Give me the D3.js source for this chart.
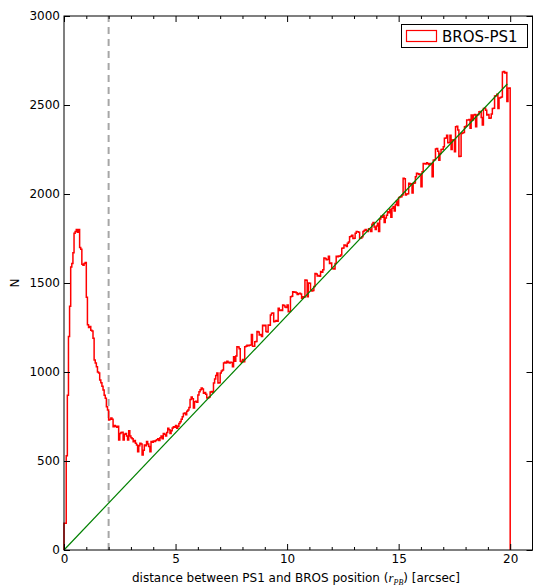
<!DOCTYPE html>
<html><head><meta charset="utf-8">
<script src="https://cdn.jsdelivr.net/npm/d3@7"></script>
<style>
body{margin:0;background:#fff}
text{font-family:"DejaVu Sans",sans-serif}
</style>
</head><body>
<svg id="c" width="533" height="586"></svg>
<script>
// ---- data ----
const seriesName = "BROS-PS1";
const binStart = 0;
const binWidth = 0.05;
const counts = [
150,150,530,870,1200,1370,1590,1610,1670,1780,
1790,1800,1785,1800,1700,1690,1605,1600,1610,1615,
1420,1265,1250,1255,1235,1230,1190,1067,1050,1030,
1000,994,955,940,920,899,870,853,805,787,
730,735,741,735,693,700,695,690,695,618,
655,660,661,618,650,655,640,618,670,640,
630,625,608,615,600,590,552,585,600,595,
534,560,590,585,609,595,581,552,609,605,
612,609,615,620,625,615,630,640,625,655,
650,640,660,684,675,655,670,685,693,690,
700,684,695,710,721,735,749,767,770,760,
780,787,800,845,860,850,798,833,835,830,
871,889,900,910,905,880,885,875,854,855,
860,888,890,885,938,960,980,994,938,940,
994,1005,1011,1050,1055,1050,1060,1055,1050,1055,
1054,1030,1086,1060,1090,1142,1140,1130,1060,1055,
1070,1058,1142,1145,1150,1148,1150,1152,1210,1145,
1145,1170,1172,1227,1225,1208,1210,1200,1262,1260,
1262,1227,1225,1264,1262,1320,1330,1332,1283,1285,
1290,1285,1358,1345,1348,1345,1376,1374,1365,1362,
1376,1339,1340,1423,1425,1451,1448,1450,1445,1435,
1440,1442,1438,1415,1423,1420,1517,1515,1423,1500,
1498,1461,1455,1458,1480,1554,1550,1540,1542,1538,
1564,1560,1575,1640,1638,1630,1632,1650,1610,1612,
1580,1582,1578,1610,1650,1648,1652,1650,1657,1695,
1697,1714,1712,1705,1723,1730,1760,1762,1768,1750,
1752,1780,1790,1788,1785,1751,1753,1760,1790,1795,
1800,1795,1790,1805,1800,1790,1830,1840,1815,1800,
1820,1835,1790,1860,1875,1870,1880,1840,1865,1880,
1900,1895,1915,1870,1920,1930,1905,1940,1960,1935,
1980,1983,1985,1994,2088,2085,1994,2000,2002,2060,
2055,2058,2005,2060,2062,2097,2116,2114,2110,2112,
2041,2125,2172,2170,2168,2175,2170,2165,2172,2170,
2097,2190,2192,2253,2255,2240,2190,2228,2250,2252,
2265,2313,2315,2330,2288,2290,2330,2250,2303,2305,
2238,2378,2380,2360,2210,2212,2340,2342,2345,2378,
2380,2416,2416,2418,2370,2444,2416,2444,2446,2378,
2444,2446,2462,2464,2430,2388,2480,2482,2470,2444,
2446,2425,2427,2450,2480,2482,2550,2552,2560,2480,
2540,2542,2545,2685,2688,2680,2682,2519,2594,2596
];
const fitX = [0, 19.87];
const fitN = [0, 2618];
const cutX = [2];
const xMajorTicks = [0, 5, 10, 15, 20];
const xMinorTicks = [1,2,3,4,6,7,8,9,11,12,13,14,16,17,18,19,21];
const yTicks = [0, 500, 1000, 1500, 2000, 2500, 3000];
const xDomain = [0, 21];
const yDomain = [0, 3000];

// ---- layout ----
const L = 64, R = 532.5, T = 16, B = 550;
const svg = d3.select("#c");
const x = d3.scaleLinear().domain(xDomain).range([L, R]);
const y = d3.scaleLinear().domain(yDomain).range([B, T]);

// dashed cut line
svg.selectAll("line.cut").data(cutX).enter().append("line")
  .attr("x1", d => x(d)).attr("x2", d => x(d))
  .attr("y1", y(yDomain[0])).attr("y2", y(yDomain[1]))
  .attr("stroke", "#a6a6a6").attr("stroke-width", 2)
  .attr("stroke-dasharray", "7,5");

// histogram step outline
const pts = [[binStart, 0]];
counts.forEach((c, i) => {
  const x0 = binStart + i * binWidth, x1 = x0 + binWidth;
  pts.push([x0, c]); pts.push([x1, c]);
});
pts.push([binStart + counts.length * binWidth, 0]);
svg.append("path")
  .attr("d", d3.line().x(d => x(d[0])).y(d => y(d[1]))(pts))
  .attr("fill", "none").attr("stroke", "#ff0000").attr("stroke-width", 1.5)
  .attr("stroke-linejoin", "miter");

// fit line
svg.append("path")
  .attr("d", d3.line().x(d => x(d[0])).y(d => y(d[1]))(fitX.map((v, i) => [v, fitN[i]])))
  .attr("stroke", "#008000").attr("stroke-width", 1.2).attr("fill", "none");

// axes
function style(g) {
  g.select(".domain").remove();
  g.selectAll("line").attr("stroke", "#000");
  g.selectAll("text").attr("font-size", 12).attr("fill", "#000")
    .attr("font-family", '"DejaVu Sans",sans-serif');
}
svg.append("g").attr("transform", `translate(0,${B})`)
  .call(d3.axisBottom(x).tickValues(xMajorTicks).tickSize(-6).tickPadding(4).tickFormat(d3.format("d"))).call(style);
svg.append("g").attr("transform", `translate(0,${B})`)
  .call(d3.axisBottom(x).tickValues(xMinorTicks).tickSize(-3).tickFormat("")).call(style);
svg.append("g").attr("transform", `translate(0,${T})`)
  .call(d3.axisTop(x).tickValues(xMajorTicks).tickSize(-6).tickFormat("")).call(style);
svg.append("g").attr("transform", `translate(0,${T})`)
  .call(d3.axisTop(x).tickValues(xMinorTicks).tickSize(-3).tickFormat("")).call(style);
svg.append("g").attr("transform", `translate(${L},0)`)
  .call(d3.axisLeft(y).tickValues(yTicks).tickSize(-6).tickPadding(4).tickFormat(d3.format("d"))).call(style);
svg.append("g").attr("transform", `translate(${R},0)`)
  .call(d3.axisRight(y).tickValues(yTicks).tickSize(-6).tickFormat("")).call(style);

// frame
svg.append("rect").attr("x", L).attr("y", T).attr("width", R - L).attr("height", B - T)
  .attr("fill", "none").attr("stroke", "#000").attr("stroke-width", 1);

// axis labels
const xl = svg.append("text").attr("x", 296).attr("y", 582).attr("text-anchor", "middle")
  .attr("font-size", 12);
xl.append("tspan").text("distance between PS1 and BROS position (");
xl.append("tspan").text("r").attr("font-family", '"Liberation Serif",serif').attr("font-style", "italic").attr("font-size", 13);
xl.append("tspan").text("PB").attr("font-family", '"Liberation Serif",serif').attr("font-style", "italic")
  .attr("font-size", 8).attr("dy", 3);
xl.append("tspan").text(") [arcsec]").attr("dy", -3);

svg.append("text").attr("transform", `translate(19,${(T + B) / 2}) rotate(-90)`)
  .attr("text-anchor", "middle").attr("font-size", 12).text("N");

// legend
const lg = svg.append("g");
lg.append("rect").attr("x", 401.5).attr("y", 24.5).attr("width", 126).attr("height", 23)
  .attr("fill", "#fff").attr("stroke", "#000").attr("stroke-width", 1);
lg.append("rect").attr("x", 406.5).attr("y", 30.5).attr("width", 30).attr("height", 11)
  .attr("fill", "none").attr("stroke", "#ff0000").attr("stroke-width", 1.2);
lg.append("text").attr("x", 442).attr("y", 42).attr("font-size", 15).text(seriesName);
</script>
</body></html>
